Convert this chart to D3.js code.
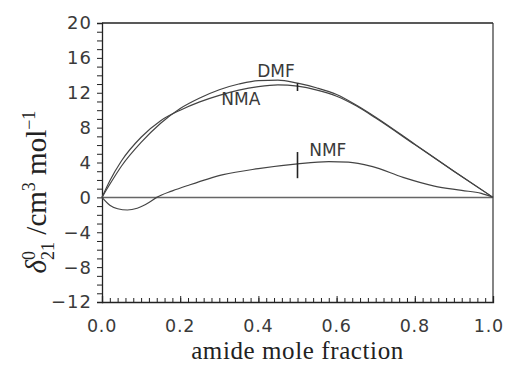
<!DOCTYPE html>
<html>
<head>
<meta charset="utf-8">
<script src="https://cdn.jsdelivr.net/npm/d3@7"></script>
<style>
  body { margin: 0; background: #fff; }
  svg { display: block; }
</style>
</head>
<body>
<script>
// excess partial molar volume vs amide mole fraction

const width = 505;
const height = 365;
const margin = {top: 23, left: 102, bottom: 63, right: 12};

const xs = [0, 0.02, 0.05, 0.1, 0.15, 0.2, 0.25, 0.3, 0.35, 0.4, 0.45, 0.5, 0.55, 0.6, 0.65, 0.7, 0.8, 0.9, 1.0];
const dmf = [0, 1.5, 3.6, 6.3, 8.5, 10.2, 11.4, 12.35, 13.0, 13.4, 13.45, 13.1, 12.55, 11.8, 10.6, 9.2, 6.1, 3.0, 0];
const nma = [0, 1.9, 4.2, 6.9, 8.8, 10.0, 10.95, 11.7, 12.3, 12.7, 12.9, 12.75, 12.3, 11.6, 10.5, 9.1, 6.05, 3.0, 0];

const nmfX = [0, 0.02, 0.04, 0.065, 0.09, 0.12, 0.14, 0.18, 0.225, 0.27, 0.31, 0.4, 0.5, 0.58, 0.63, 0.69, 0.77, 0.85, 0.92, 0.97, 1.0];
const nmf = [0, -0.9, -1.3, -1.45, -1.25, -0.6, 0, 0.75, 1.45, 2.1, 2.6, 3.3, 3.85, 4.1, 4.05, 3.55, 2.3, 1.3, 0.8, 0.45, 0];

// marks at x = 0.5: [low, high]
const marks = [[12.2, 13.1], [2.2, 5.2]];

const labels = [
    {text: 'DMF', x: 0.397, y: 13.8},
    {text: 'NMA', x: 0.305, y: 10.6},
    {text: 'NMF', x: 0.53, y: 4.7}
];

const xTicks = [0, 0.2, 0.4, 0.6, 0.8, 1.0];
const yTicks = [-12, -8, -4, 0, 4, 8, 12, 16, 20];

const x = d3.scaleLinear()
    .domain([0, 1])
    .range([margin.left, width - margin.right]);

const y = d3.scaleLinear()
    .domain([-12, 20])
    .range([height - margin.bottom, margin.top]);

const svg = d3.select('body').append('svg')
    .attr('width', width)
    .attr('height', height);

const tickFont = '"DejaVu Sans", sans-serif';

// frame: top and right
svg.append('line')
    .attr('x1', x(0)).attr('x2', x(1))
    .attr('y1', y(20)).attr('y2', y(20))
    .attr('stroke', '#222').attr('stroke-width', 1.3);
svg.append('line')
    .attr('x1', x(1)).attr('x2', x(1))
    .attr('y1', y(20)).attr('y2', y(-12))
    .attr('stroke', '#333').attr('stroke-width', 1.2);

// zero line
svg.append('line')
    .attr('x1', x(0)).attr('x2', x(1))
    .attr('y1', y(0)).attr('y2', y(0))
    .attr('stroke', '#666').attr('stroke-width', 1.5);

// x axis with inward ticks
svg.append('g')
    .attr('transform', `translate(0, ${y(-12)})`)
    .call(d3.axisTop(x).ticks(50).tickSize(4).tickFormat(''))
    .call(g => g.select('.domain').remove())
    .call(g => g.selectAll('line').attr('stroke', '#222'));

svg.append('g')
    .attr('transform', `translate(0, ${y(-12)})`)
    .call(d3.axisTop(x).tickValues(xTicks).tickSize(6).tickFormat(''))
    .call(g => g.selectAll('line').attr('stroke', '#222'))
    .call(g => g.select('.domain').attr('stroke', '#222').attr('stroke-width', 1.3));

svg.append('g')
    .selectAll('text').data(xTicks).enter().append('text')
    .attr('x', d => x(d))
    .attr('y', y(-12) + 30)
    .attr('text-anchor', 'middle')
    .attr('font-family', tickFont)
    .attr('font-size', 17.5)
    .attr('letter-spacing', 0.8)
    .attr('fill', '#3a3a3a')
    .text(d => d3.format('.1f')(d))
    .each(function() {
        // keep the last label inside the window
        const b = this.getBBox();
        if (b.x + b.width > width - 1) d3.select(this).attr('x', +this.getAttribute('x') - (b.x + b.width - width + 1));
    });

// y axis with outward ticks
svg.append('g')
    .attr('transform', `translate(${x(0)}, 0)`)
    .call(d3.axisLeft(y).ticks(32).tickSize(5).tickFormat(''))
    .call(g => g.selectAll('line').attr('stroke', '#222'))
    .call(g => g.select('.domain').attr('stroke', '#222').attr('stroke-width', 1.3));

svg.append('g')
    .selectAll('text').data(yTicks).enter().append('text')
    .attr('x', x(0) - 10)
    .attr('y', d => y(d))
    .attr('dy', '0.36em')
    .attr('text-anchor', 'end')
    .attr('font-family', tickFont)
    .attr('font-size', 18)
    .attr('letter-spacing', 1)
    .attr('fill', '#3a3a3a')
    .text(d => d < 0 ? '\u2212' + Math.abs(d) : d);

// curves
const line = d3.line()
    .x(d => x(d[0]))
    .y(d => y(d[1]))
    .curve(d3.curveMonotoneX);

const series = [
    xs.map((d, i) => [d, dmf[i]]),
    xs.map((d, i) => [d, nma[i]]),
    nmfX.map((d, i) => [d, nmf[i]])
];

svg.append('g')
    .selectAll('path').data(series).enter().append('path')
    .attr('d', line)
    .attr('fill', 'none')
    .attr('stroke', '#444')
    .attr('stroke-width', 1.2);

svg.append('g')
    .selectAll('line').data(marks).enter().append('line')
    .attr('x1', x(0.5)).attr('x2', x(0.5))
    .attr('y1', d => y(d[0])).attr('y2', d => y(d[1]))
    .attr('stroke', '#222')
    .attr('stroke-width', 1.6);

svg.append('g')
    .selectAll('text').data(labels).enter().append('text')
    .attr('x', d => x(d.x))
    .attr('y', d => y(d.y))
    .attr('font-family', tickFont)
    .attr('font-size', 17)
    .attr('fill', '#3a3a3a')
    .text(d => d.text);

// axis titles
svg.append('text')
    .attr('x', (x(0) + x(1)) / 2)
    .attr('y', 359)
    .attr('text-anchor', 'middle')
    .attr('font-family', '"Liberation Serif", serif')
    .attr('font-size', 25)
    .attr('letter-spacing', 0.6)
    .attr('fill', '#222')
    .text('amide mole fraction');

const yt = svg.append('text')
    .attr('transform', 'translate(46, 192) rotate(-90)')
    .attr('text-anchor', 'middle')
    .attr('font-family', '"Liberation Serif", serif')
    .attr('font-size', 29)
    .attr('fill', '#222');
yt.append('tspan').attr('font-style', 'italic').text('\u03b4');
yt.append('tspan').attr('font-size', 18).attr('dy', -11).text('0');
yt.append('tspan').attr('font-size', 18).attr('dx', -9).attr('dy', 19).text('21');
yt.append('tspan').attr('dy', -8).text(' /cm');
yt.append('tspan').attr('font-size', 18).attr('dy', -11).text('3');
yt.append('tspan').attr('dy', 11).text(' mol');
yt.append('tspan').attr('font-size', 18).attr('dy', -11).text('\u22121');
</script>
</body>
</html>
